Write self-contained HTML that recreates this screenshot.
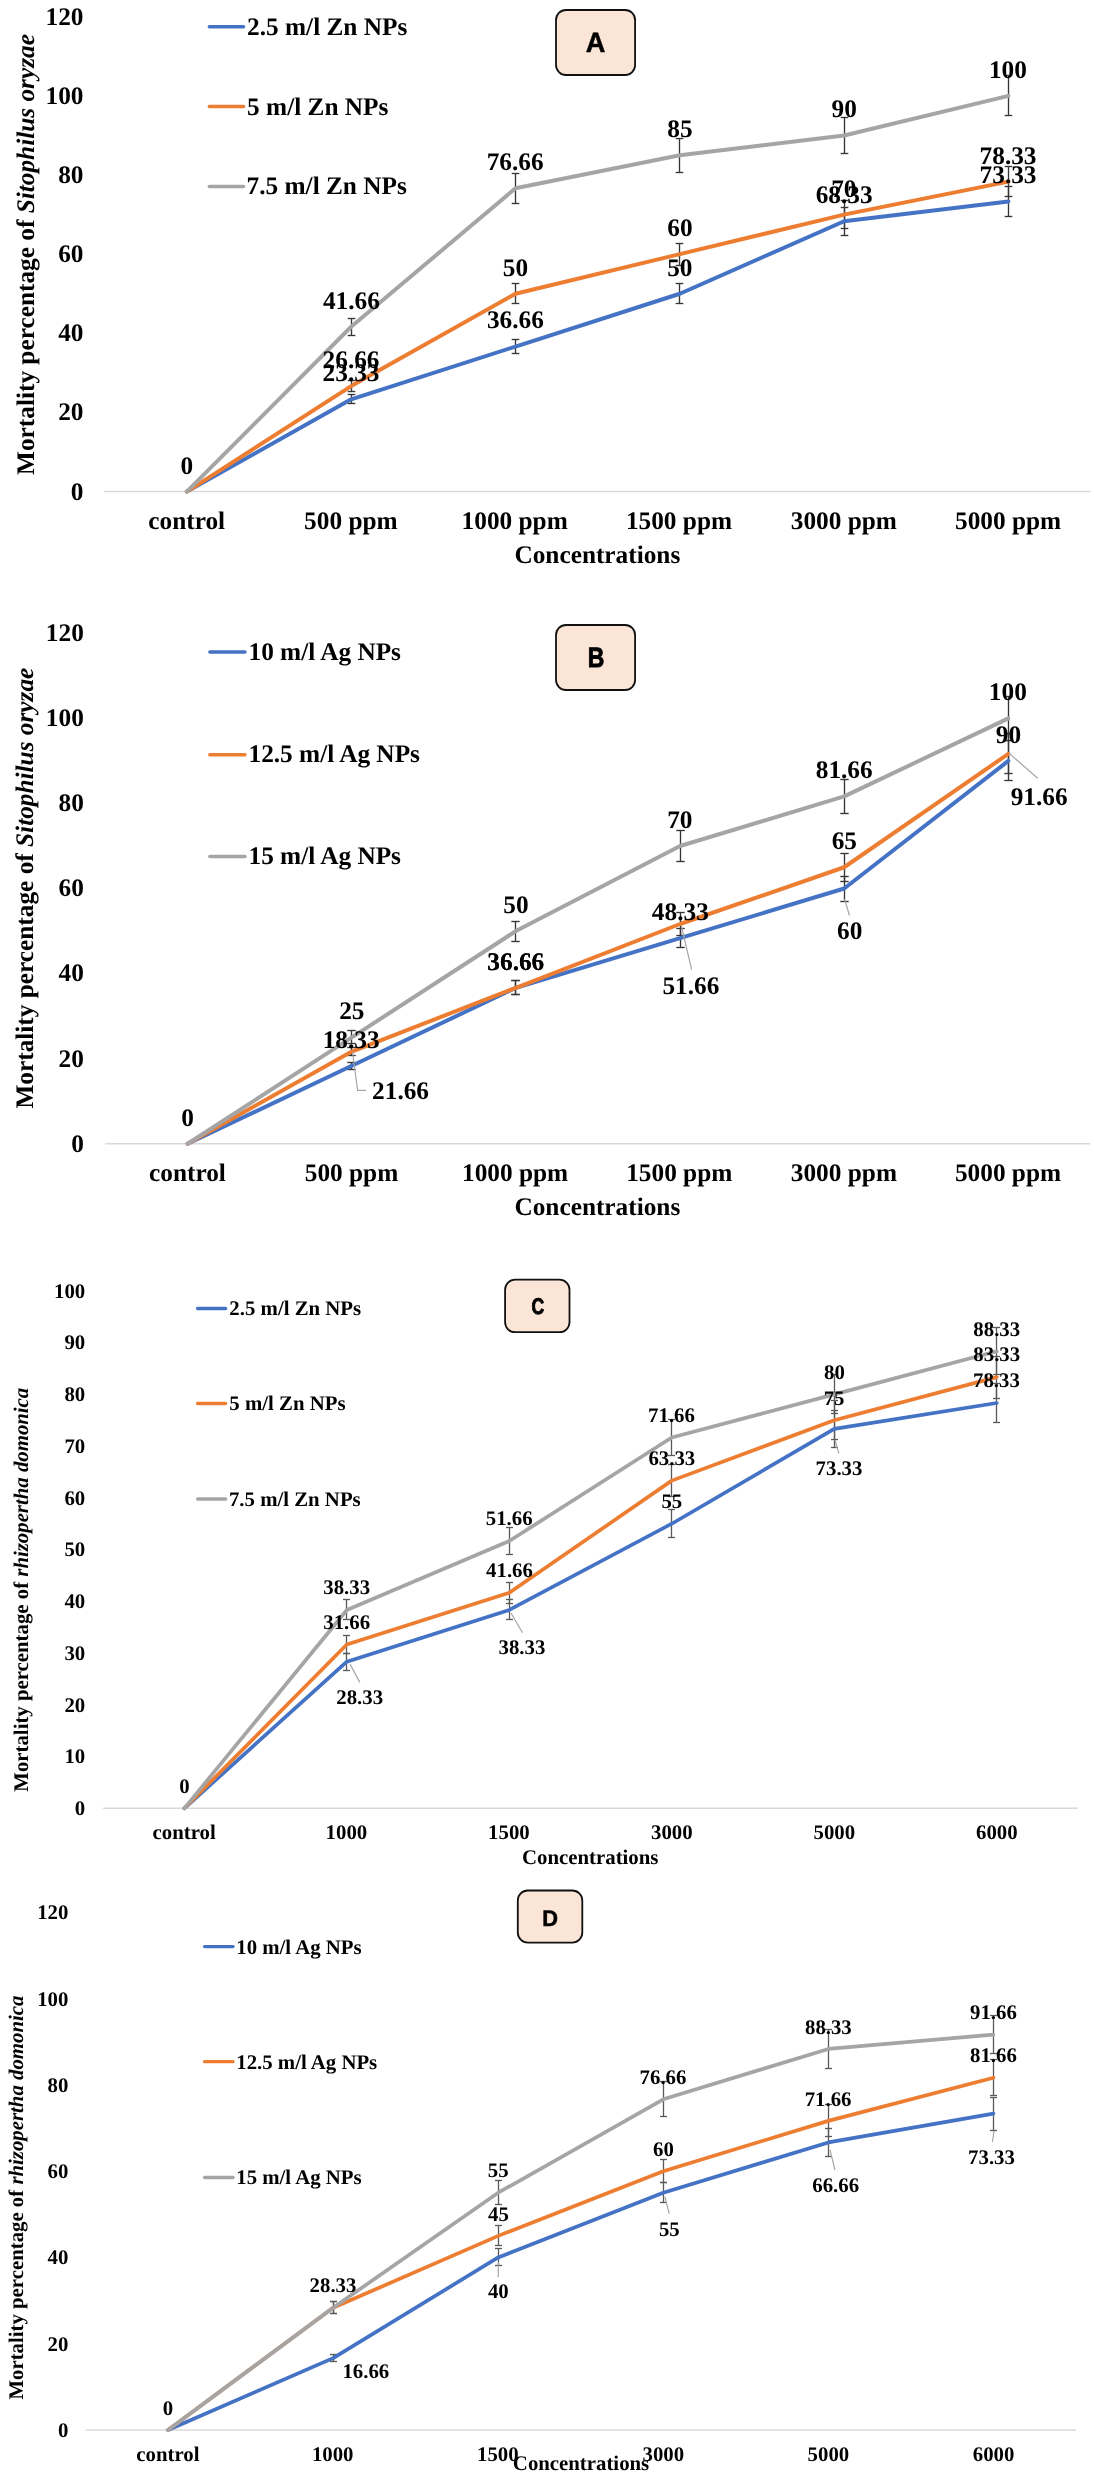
<!DOCTYPE html>
<html><head><meta charset="utf-8"><title>Mortality charts</title>
<style>
html,body{margin:0;padding:0;background:#fff;}
svg{display:block;filter:blur(0.3px);}
text{font-family:"Liberation Serif",serif;}
</style></head><body>
<svg width="1094" height="2479" viewBox="0 0 1094 2479" text-rendering="geometricPrecision">
<rect width="1094" height="2479" fill="#fff"/>
<line x1="104.2" y1="491.6" x2="1090.1" y2="491.6" stroke="#D9D9D9" stroke-width="1.5" stroke-linecap="butt"/>
<text transform="translate(70.86 499.5) scale(1 1)" style="font-size:25.3px;font-weight:bold;" fill="#000">0</text>
<text transform="translate(58.21 420.36) scale(1 1)" style="font-size:25.3px;font-weight:bold;" fill="#000">20</text>
<text transform="translate(58.21 341.22) scale(1 1)" style="font-size:25.3px;font-weight:bold;" fill="#000">40</text>
<text transform="translate(58.21 262.08) scale(1 1)" style="font-size:25.3px;font-weight:bold;" fill="#000">60</text>
<text transform="translate(58.21 182.94) scale(1 1)" style="font-size:25.3px;font-weight:bold;" fill="#000">80</text>
<text transform="translate(45.56 103.8) scale(1 1)" style="font-size:25.3px;font-weight:bold;" fill="#000">100</text>
<text transform="translate(45.56 24.66) scale(1 1)" style="font-size:25.3px;font-weight:bold;" fill="#000">120</text>
<text transform="translate(148.28 529.1) scale(1 1)" style="font-size:25.3px;font-weight:bold;" fill="#000">control</text>
<text transform="translate(304.12 529.1) scale(1 1)" style="font-size:25.3px;font-weight:bold;" fill="#000">500 ppm</text>
<text transform="translate(461.6 529.1) scale(1 1)" style="font-size:25.3px;font-weight:bold;" fill="#000">1000 ppm</text>
<text transform="translate(625.92 529.1) scale(1 1)" style="font-size:25.3px;font-weight:bold;" fill="#000">1500 ppm</text>
<text transform="translate(790.74 529.1) scale(1 1)" style="font-size:25.3px;font-weight:bold;" fill="#000">3000 ppm</text>
<text transform="translate(955.06 529.1) scale(1 1)" style="font-size:25.3px;font-weight:bold;" fill="#000">5000 ppm</text>
<text transform="translate(514.44 563.3) scale(1 1)" style="font-size:25.3px;font-weight:bold;" fill="#000">Concentrations</text>
<text transform="translate(34 474.4) rotate(-90) scale(1 1) translate(-0.51 0)" style="font-size:25.3px"><tspan style="font-weight:bold;">Mortality percentage of </tspan><tspan style="font-weight:bold;font-style:italic;">Sitophilus oryzae</tspan></text>
<line x1="209.35" y1="26.8" x2="243.55" y2="26.8" stroke="#4472C4" stroke-width="3.5" stroke-linecap="round"/>
<text transform="translate(247.09 35) scale(1 1)" style="font-size:25.3px;font-weight:bold;" fill="#000">2.5 m/l Zn NPs</text>
<line x1="209.35" y1="106.6" x2="243.55" y2="106.6" stroke="#ED7D31" stroke-width="3.5" stroke-linecap="round"/>
<text transform="translate(247.09 114.5) scale(1 1)" style="font-size:25.3px;font-weight:bold;" fill="#000">5 m/l Zn NPs</text>
<line x1="209.35" y1="186.4" x2="243.55" y2="186.4" stroke="#A5A5A5" stroke-width="3.5" stroke-linecap="round"/>
<text transform="translate(246.58 194.4) scale(1 1)" style="font-size:25.3px;font-weight:bold;" fill="#000">7.5 m/l Zn NPs</text>
<rect x="556" y="10" width="79.1" height="65" rx="10" ry="10" fill="#FBE5D6" stroke="#111" stroke-width="1.8"/>
<text transform="translate(585.74 52.4) scale(0.97 1)" style="font-family:'Liberation Sans',sans-serif;font-weight:bold;font-size:28px" fill="#000" stroke="#000" stroke-width="0.5">A</text>
<line x1="351.5" y1="394.5" x2="351.5" y2="403.5" stroke="#363636" stroke-width="1.35" stroke-linecap="butt"/>
<line x1="347.7" y1="394.5" x2="355.3" y2="394.5" stroke="#363636" stroke-width="1.35" stroke-linecap="butt"/>
<line x1="347.7" y1="403.5" x2="355.3" y2="403.5" stroke="#363636" stroke-width="1.35" stroke-linecap="butt"/>
<line x1="515.5" y1="339.5" x2="515.5" y2="353.5" stroke="#363636" stroke-width="1.35" stroke-linecap="butt"/>
<line x1="511.7" y1="339.5" x2="519.3" y2="339.5" stroke="#363636" stroke-width="1.35" stroke-linecap="butt"/>
<line x1="511.7" y1="353.5" x2="519.3" y2="353.5" stroke="#363636" stroke-width="1.35" stroke-linecap="butt"/>
<line x1="679.5" y1="283.5" x2="679.5" y2="303.5" stroke="#363636" stroke-width="1.35" stroke-linecap="butt"/>
<line x1="675.7" y1="283.5" x2="683.3" y2="283.5" stroke="#363636" stroke-width="1.35" stroke-linecap="butt"/>
<line x1="675.7" y1="303.5" x2="683.3" y2="303.5" stroke="#363636" stroke-width="1.35" stroke-linecap="butt"/>
<line x1="844.5" y1="207.5" x2="844.5" y2="235.5" stroke="#363636" stroke-width="1.35" stroke-linecap="butt"/>
<line x1="840.7" y1="207.5" x2="848.3" y2="207.5" stroke="#363636" stroke-width="1.35" stroke-linecap="butt"/>
<line x1="840.7" y1="235.5" x2="848.3" y2="235.5" stroke="#363636" stroke-width="1.35" stroke-linecap="butt"/>
<line x1="1008.5" y1="186.5" x2="1008.5" y2="216.5" stroke="#363636" stroke-width="1.35" stroke-linecap="butt"/>
<line x1="1004.7" y1="186.5" x2="1012.3" y2="186.5" stroke="#363636" stroke-width="1.35" stroke-linecap="butt"/>
<line x1="1004.7" y1="216.5" x2="1012.3" y2="216.5" stroke="#363636" stroke-width="1.35" stroke-linecap="butt"/>
<line x1="351.5" y1="380.5" x2="351.5" y2="391.5" stroke="#363636" stroke-width="1.35" stroke-linecap="butt"/>
<line x1="347.7" y1="380.5" x2="355.3" y2="380.5" stroke="#363636" stroke-width="1.35" stroke-linecap="butt"/>
<line x1="347.7" y1="391.5" x2="355.3" y2="391.5" stroke="#363636" stroke-width="1.35" stroke-linecap="butt"/>
<line x1="515.5" y1="283.5" x2="515.5" y2="303.5" stroke="#363636" stroke-width="1.35" stroke-linecap="butt"/>
<line x1="511.7" y1="283.5" x2="519.3" y2="283.5" stroke="#363636" stroke-width="1.35" stroke-linecap="butt"/>
<line x1="511.7" y1="303.5" x2="519.3" y2="303.5" stroke="#363636" stroke-width="1.35" stroke-linecap="butt"/>
<line x1="679.5" y1="243.5" x2="679.5" y2="265.5" stroke="#363636" stroke-width="1.35" stroke-linecap="butt"/>
<line x1="675.7" y1="243.5" x2="683.3" y2="243.5" stroke="#363636" stroke-width="1.35" stroke-linecap="butt"/>
<line x1="675.7" y1="265.5" x2="683.3" y2="265.5" stroke="#363636" stroke-width="1.35" stroke-linecap="butt"/>
<line x1="844.5" y1="200.5" x2="844.5" y2="228.5" stroke="#363636" stroke-width="1.35" stroke-linecap="butt"/>
<line x1="840.7" y1="200.5" x2="848.3" y2="200.5" stroke="#363636" stroke-width="1.35" stroke-linecap="butt"/>
<line x1="840.7" y1="228.5" x2="848.3" y2="228.5" stroke="#363636" stroke-width="1.35" stroke-linecap="butt"/>
<line x1="1008.5" y1="166.5" x2="1008.5" y2="196.5" stroke="#363636" stroke-width="1.35" stroke-linecap="butt"/>
<line x1="1004.7" y1="166.5" x2="1012.3" y2="166.5" stroke="#363636" stroke-width="1.35" stroke-linecap="butt"/>
<line x1="1004.7" y1="196.5" x2="1012.3" y2="196.5" stroke="#363636" stroke-width="1.35" stroke-linecap="butt"/>
<line x1="351.5" y1="318.5" x2="351.5" y2="335.5" stroke="#363636" stroke-width="1.35" stroke-linecap="butt"/>
<line x1="347.7" y1="318.5" x2="355.3" y2="318.5" stroke="#363636" stroke-width="1.35" stroke-linecap="butt"/>
<line x1="347.7" y1="335.5" x2="355.3" y2="335.5" stroke="#363636" stroke-width="1.35" stroke-linecap="butt"/>
<line x1="515.5" y1="173.5" x2="515.5" y2="203.5" stroke="#363636" stroke-width="1.35" stroke-linecap="butt"/>
<line x1="511.7" y1="173.5" x2="519.3" y2="173.5" stroke="#363636" stroke-width="1.35" stroke-linecap="butt"/>
<line x1="511.7" y1="203.5" x2="519.3" y2="203.5" stroke="#363636" stroke-width="1.35" stroke-linecap="butt"/>
<line x1="679.5" y1="138.5" x2="679.5" y2="172.5" stroke="#363636" stroke-width="1.35" stroke-linecap="butt"/>
<line x1="675.7" y1="138.5" x2="683.3" y2="138.5" stroke="#363636" stroke-width="1.35" stroke-linecap="butt"/>
<line x1="675.7" y1="172.5" x2="683.3" y2="172.5" stroke="#363636" stroke-width="1.35" stroke-linecap="butt"/>
<line x1="844.5" y1="117.5" x2="844.5" y2="153.5" stroke="#363636" stroke-width="1.35" stroke-linecap="butt"/>
<line x1="840.7" y1="117.5" x2="848.3" y2="117.5" stroke="#363636" stroke-width="1.35" stroke-linecap="butt"/>
<line x1="840.7" y1="153.5" x2="848.3" y2="153.5" stroke="#363636" stroke-width="1.35" stroke-linecap="butt"/>
<line x1="1008.5" y1="75.5" x2="1008.5" y2="115.5" stroke="#363636" stroke-width="1.35" stroke-linecap="butt"/>
<line x1="1004.7" y1="75.5" x2="1012.3" y2="75.5" stroke="#363636" stroke-width="1.35" stroke-linecap="butt"/>
<line x1="1004.7" y1="115.5" x2="1012.3" y2="115.5" stroke="#363636" stroke-width="1.35" stroke-linecap="butt"/>
<polyline points="186.86,491.6 351.17,399.28 515.49,346.54 679.81,293.75 844.12,221.22 1008.44,201.43" fill="none" stroke="#4472C4" stroke-width="4" stroke-linejoin="round" stroke-linecap="round"/>
<polyline points="186.86,491.6 351.17,386.11 515.49,293.75 679.81,254.18 844.12,214.61 1008.44,181.65" fill="none" stroke="#ED7D31" stroke-width="4" stroke-linejoin="round" stroke-linecap="round"/>
<polyline points="186.86,491.6 351.17,326.75 515.49,188.26 679.81,155.26 844.12,135.47 1008.44,95.9" fill="none" stroke="#A5A5A5" stroke-width="4" stroke-linejoin="round" stroke-linecap="round"/>
<text transform="translate(322.59 381.18) scale(1 1)" style="font-size:25.3px;font-weight:bold;" fill="#000">23.33</text>
<text transform="translate(486.9 328.44) scale(1 1)" style="font-size:25.3px;font-weight:bold;" fill="#000">36.66</text>
<text transform="translate(667.16 275.65) scale(1 1)" style="font-size:25.3px;font-weight:bold;" fill="#000">50</text>
<text transform="translate(815.66 203.12) scale(1 1)" style="font-size:25.3px;font-weight:bold;" fill="#000">68.33</text>
<text transform="translate(979.6 183.33) scale(1 1)" style="font-size:25.3px;font-weight:bold;" fill="#000">73.33</text>
<text transform="translate(322.59 368.01) scale(1 1)" style="font-size:25.3px;font-weight:bold;" fill="#000">26.66</text>
<text transform="translate(502.84 275.65) scale(1 1)" style="font-size:25.3px;font-weight:bold;" fill="#000">50</text>
<text transform="translate(667.28 236.08) scale(1 1)" style="font-size:25.3px;font-weight:bold;" fill="#000">60</text>
<text transform="translate(831.22 196.51) scale(1 1)" style="font-size:25.3px;font-weight:bold;" fill="#000">70</text>
<text transform="translate(979.6 163.55) scale(1 1)" style="font-size:25.3px;font-weight:bold;" fill="#000">78.33</text>
<text transform="translate(180.53 473.5) scale(1 1)" style="font-size:25.3px;font-weight:bold;" fill="#000">0</text>
<text transform="translate(322.97 308.65) scale(1 1)" style="font-size:25.3px;font-weight:bold;" fill="#000">41.66</text>
<text transform="translate(486.65 170.16) scale(1 1)" style="font-size:25.3px;font-weight:bold;" fill="#000">76.66</text>
<text transform="translate(667.28 137.16) scale(1 1)" style="font-size:25.3px;font-weight:bold;" fill="#000">85</text>
<text transform="translate(831.6 117.37) scale(1 1)" style="font-size:25.3px;font-weight:bold;" fill="#000">90</text>
<text transform="translate(988.96 77.8) scale(1 1)" style="font-size:25.3px;font-weight:bold;" fill="#000">100</text>
<line x1="105.3" y1="1143.7" x2="1090.1" y2="1143.7" stroke="#D9D9D9" stroke-width="1.5" stroke-linecap="butt"/>
<text transform="translate(71.16 1151.6) scale(1 1)" style="font-size:25.3px;font-weight:bold;" fill="#000">0</text>
<text transform="translate(58.51 1066.54) scale(1 1)" style="font-size:25.3px;font-weight:bold;" fill="#000">20</text>
<text transform="translate(58.51 981.48) scale(1 1)" style="font-size:25.3px;font-weight:bold;" fill="#000">40</text>
<text transform="translate(58.51 896.42) scale(1 1)" style="font-size:25.3px;font-weight:bold;" fill="#000">60</text>
<text transform="translate(58.51 811.36) scale(1 1)" style="font-size:25.3px;font-weight:bold;" fill="#000">80</text>
<text transform="translate(45.86 726.3) scale(1 1)" style="font-size:25.3px;font-weight:bold;" fill="#000">100</text>
<text transform="translate(45.86 641.24) scale(1 1)" style="font-size:25.3px;font-weight:bold;" fill="#000">120</text>
<text transform="translate(149.08 1180.7) scale(1 1)" style="font-size:25.3px;font-weight:bold;" fill="#000">control</text>
<text transform="translate(304.74 1180.7) scale(1 1)" style="font-size:25.3px;font-weight:bold;" fill="#000">500 ppm</text>
<text transform="translate(462.04 1180.7) scale(1 1)" style="font-size:25.3px;font-weight:bold;" fill="#000">1000 ppm</text>
<text transform="translate(626.18 1180.7) scale(1 1)" style="font-size:25.3px;font-weight:bold;" fill="#000">1500 ppm</text>
<text transform="translate(790.82 1180.7) scale(1 1)" style="font-size:25.3px;font-weight:bold;" fill="#000">3000 ppm</text>
<text transform="translate(954.95 1180.7) scale(1 1)" style="font-size:25.3px;font-weight:bold;" fill="#000">5000 ppm</text>
<text transform="translate(514.44 1215.2) scale(1 1)" style="font-size:25.3px;font-weight:bold;" fill="#000">Concentrations</text>
<text transform="translate(32.9 1108) rotate(-90) scale(1 1) translate(-0.51 0)" style="font-size:25.3px"><tspan style="font-weight:bold;">Mortality percentage of </tspan><tspan style="font-weight:bold;font-style:italic;">Sitophilus oryzae</tspan></text>
<line x1="209.85" y1="652.1" x2="244.95" y2="652.1" stroke="#4472C4" stroke-width="3.5" stroke-linecap="round"/>
<text transform="translate(248.48 660) scale(1 1)" style="font-size:25.3px;font-weight:bold;" fill="#000">10 m/l Ag NPs</text>
<line x1="209.85" y1="754.8" x2="244.95" y2="754.8" stroke="#ED7D31" stroke-width="3.5" stroke-linecap="round"/>
<text transform="translate(248.48 762.1) scale(1 1)" style="font-size:25.3px;font-weight:bold;" fill="#000">12.5 m/l Ag NPs</text>
<line x1="209.85" y1="856.6" x2="244.95" y2="856.6" stroke="#A5A5A5" stroke-width="3.5" stroke-linecap="round"/>
<text transform="translate(248.48 864.1) scale(1 1)" style="font-size:25.3px;font-weight:bold;" fill="#000">15 m/l Ag NPs</text>
<rect x="556" y="625" width="79.1" height="65" rx="10" ry="10" fill="#FBE5D6" stroke="#111" stroke-width="1.8"/>
<text transform="translate(587.74 667.4) scale(0.82 1)" style="font-family:'Liberation Sans',sans-serif;font-weight:bold;font-size:28px" fill="#000" stroke="#000" stroke-width="0.9">B</text>
<line x1="351.5" y1="1062.5" x2="351.5" y2="1069.5" stroke="#363636" stroke-width="1.35" stroke-linecap="butt"/>
<line x1="347.3" y1="1062.5" x2="355.7" y2="1062.5" stroke="#363636" stroke-width="1.35" stroke-linecap="butt"/>
<line x1="347.3" y1="1069.5" x2="355.7" y2="1069.5" stroke="#363636" stroke-width="1.35" stroke-linecap="butt"/>
<line x1="515.5" y1="980.5" x2="515.5" y2="994.5" stroke="#363636" stroke-width="1.35" stroke-linecap="butt"/>
<line x1="511.3" y1="980.5" x2="519.7" y2="980.5" stroke="#363636" stroke-width="1.35" stroke-linecap="butt"/>
<line x1="511.3" y1="994.5" x2="519.7" y2="994.5" stroke="#363636" stroke-width="1.35" stroke-linecap="butt"/>
<line x1="680.5" y1="928.5" x2="680.5" y2="947.5" stroke="#363636" stroke-width="1.35" stroke-linecap="butt"/>
<line x1="676.3" y1="928.5" x2="684.7" y2="928.5" stroke="#363636" stroke-width="1.35" stroke-linecap="butt"/>
<line x1="676.3" y1="947.5" x2="684.7" y2="947.5" stroke="#363636" stroke-width="1.35" stroke-linecap="butt"/>
<line x1="844.5" y1="876.5" x2="844.5" y2="901.5" stroke="#363636" stroke-width="1.35" stroke-linecap="butt"/>
<line x1="840.3" y1="876.5" x2="848.7" y2="876.5" stroke="#363636" stroke-width="1.35" stroke-linecap="butt"/>
<line x1="840.3" y1="901.5" x2="848.7" y2="901.5" stroke="#363636" stroke-width="1.35" stroke-linecap="butt"/>
<line x1="1008.5" y1="740.5" x2="1008.5" y2="780.5" stroke="#363636" stroke-width="1.35" stroke-linecap="butt"/>
<line x1="1004.3" y1="740.5" x2="1012.7" y2="740.5" stroke="#363636" stroke-width="1.35" stroke-linecap="butt"/>
<line x1="1004.3" y1="780.5" x2="1012.7" y2="780.5" stroke="#363636" stroke-width="1.35" stroke-linecap="butt"/>
<line x1="351.5" y1="1047.5" x2="351.5" y2="1055.5" stroke="#363636" stroke-width="1.35" stroke-linecap="butt"/>
<line x1="347.3" y1="1047.5" x2="355.7" y2="1047.5" stroke="#363636" stroke-width="1.35" stroke-linecap="butt"/>
<line x1="347.3" y1="1055.5" x2="355.7" y2="1055.5" stroke="#363636" stroke-width="1.35" stroke-linecap="butt"/>
<line x1="515.5" y1="980.5" x2="515.5" y2="994.5" stroke="#363636" stroke-width="1.35" stroke-linecap="butt"/>
<line x1="511.3" y1="980.5" x2="519.7" y2="980.5" stroke="#363636" stroke-width="1.35" stroke-linecap="butt"/>
<line x1="511.3" y1="994.5" x2="519.7" y2="994.5" stroke="#363636" stroke-width="1.35" stroke-linecap="butt"/>
<line x1="680.5" y1="912.5" x2="680.5" y2="935.5" stroke="#363636" stroke-width="1.35" stroke-linecap="butt"/>
<line x1="676.3" y1="912.5" x2="684.7" y2="912.5" stroke="#363636" stroke-width="1.35" stroke-linecap="butt"/>
<line x1="676.3" y1="935.5" x2="684.7" y2="935.5" stroke="#363636" stroke-width="1.35" stroke-linecap="butt"/>
<line x1="844.5" y1="853.5" x2="844.5" y2="881.5" stroke="#363636" stroke-width="1.35" stroke-linecap="butt"/>
<line x1="840.3" y1="853.5" x2="848.7" y2="853.5" stroke="#363636" stroke-width="1.35" stroke-linecap="butt"/>
<line x1="840.3" y1="881.5" x2="848.7" y2="881.5" stroke="#363636" stroke-width="1.35" stroke-linecap="butt"/>
<line x1="1008.5" y1="733.5" x2="1008.5" y2="773.5" stroke="#363636" stroke-width="1.35" stroke-linecap="butt"/>
<line x1="1004.3" y1="733.5" x2="1012.7" y2="733.5" stroke="#363636" stroke-width="1.35" stroke-linecap="butt"/>
<line x1="1004.3" y1="773.5" x2="1012.7" y2="773.5" stroke="#363636" stroke-width="1.35" stroke-linecap="butt"/>
<line x1="351.5" y1="1030.5" x2="351.5" y2="1043.5" stroke="#363636" stroke-width="1.35" stroke-linecap="butt"/>
<line x1="347.3" y1="1030.5" x2="355.7" y2="1030.5" stroke="#363636" stroke-width="1.35" stroke-linecap="butt"/>
<line x1="347.3" y1="1043.5" x2="355.7" y2="1043.5" stroke="#363636" stroke-width="1.35" stroke-linecap="butt"/>
<line x1="515.5" y1="921.5" x2="515.5" y2="941.5" stroke="#363636" stroke-width="1.35" stroke-linecap="butt"/>
<line x1="511.3" y1="921.5" x2="519.7" y2="921.5" stroke="#363636" stroke-width="1.35" stroke-linecap="butt"/>
<line x1="511.3" y1="941.5" x2="519.7" y2="941.5" stroke="#363636" stroke-width="1.35" stroke-linecap="butt"/>
<line x1="680.5" y1="830.5" x2="680.5" y2="861.5" stroke="#363636" stroke-width="1.35" stroke-linecap="butt"/>
<line x1="676.3" y1="830.5" x2="684.7" y2="830.5" stroke="#363636" stroke-width="1.35" stroke-linecap="butt"/>
<line x1="676.3" y1="861.5" x2="684.7" y2="861.5" stroke="#363636" stroke-width="1.35" stroke-linecap="butt"/>
<line x1="844.5" y1="779.5" x2="844.5" y2="813.5" stroke="#363636" stroke-width="1.35" stroke-linecap="butt"/>
<line x1="840.3" y1="779.5" x2="848.7" y2="779.5" stroke="#363636" stroke-width="1.35" stroke-linecap="butt"/>
<line x1="840.3" y1="813.5" x2="848.7" y2="813.5" stroke="#363636" stroke-width="1.35" stroke-linecap="butt"/>
<line x1="1008.5" y1="696.5" x2="1008.5" y2="740.5" stroke="#363636" stroke-width="1.35" stroke-linecap="butt"/>
<line x1="1004.3" y1="696.5" x2="1012.7" y2="696.5" stroke="#363636" stroke-width="1.35" stroke-linecap="butt"/>
<line x1="1004.3" y1="740.5" x2="1012.7" y2="740.5" stroke="#363636" stroke-width="1.35" stroke-linecap="butt"/>
<polyline points="187.67,1143.7 351.8,1065.74 515.93,987.79 680.07,938.15 844.2,888.52 1008.33,760.93" fill="none" stroke="#4472C4" stroke-width="4" stroke-linejoin="round" stroke-linecap="round"/>
<polyline points="187.67,1143.7 351.8,1051.58 515.93,987.79 680.07,923.99 844.2,867.26 1008.33,753.87" fill="none" stroke="#ED7D31" stroke-width="4" stroke-linejoin="round" stroke-linecap="round"/>
<polyline points="187.67,1143.7 351.8,1037.38 515.93,931.05 680.07,845.99 844.2,796.4 1008.33,718.4" fill="none" stroke="#A5A5A5" stroke-width="4" stroke-linejoin="round" stroke-linecap="round"/>
<polyline points="352.5,1052 357.6,1090.3 366.1,1090.3" fill="none" stroke="#A6A6A6" stroke-width="1.2"/>
<polyline points="681.4,926 691.6,969.6" fill="none" stroke="#A6A6A6" stroke-width="1.2"/>
<polyline points="844.4,899 849.5,915.5" fill="none" stroke="#A6A6A6" stroke-width="1.2"/>
<polyline points="1009,753.1 1037.7,778.2" fill="none" stroke="#A6A6A6" stroke-width="1.2"/>
<text transform="translate(322.7 1047.64) scale(1 1)" style="font-size:25.3px;font-weight:bold;" fill="#000">18.33</text>
<text transform="translate(487.34 969.69) scale(1 1)" style="font-size:25.3px;font-weight:bold;" fill="#000">36.66</text>
<text transform="translate(651.86 920.05) scale(1 1)" style="font-size:25.3px;font-weight:bold;" fill="#000">48.33</text>
<text transform="translate(837.08 939.1) scale(1 1)" style="font-size:25.3px;font-weight:bold;" fill="#000">60</text>
<text transform="translate(995.81 742.83) scale(1 1)" style="font-size:25.3px;font-weight:bold;" fill="#000">90</text>
<text transform="translate(372.09 1098.9) scale(1 1)" style="font-size:25.3px;font-weight:bold;" fill="#000">21.66</text>
<text transform="translate(487.34 969.69) scale(1 1)" style="font-size:25.3px;font-weight:bold;" fill="#000">36.66</text>
<text transform="translate(662.41 993.9) scale(1 1)" style="font-size:25.3px;font-weight:bold;" fill="#000">51.66</text>
<text transform="translate(831.68 849.16) scale(1 1)" style="font-size:25.3px;font-weight:bold;" fill="#000">65</text>
<text transform="translate(1010.64 804.8) scale(1 1)" style="font-size:25.3px;font-weight:bold;" fill="#000">91.66</text>
<text transform="translate(181.34 1125.6) scale(1 1)" style="font-size:25.3px;font-weight:bold;" fill="#000">0</text>
<text transform="translate(339.15 1019.27) scale(1 1)" style="font-size:25.3px;font-weight:bold;" fill="#000">25</text>
<text transform="translate(503.28 912.95) scale(1 1)" style="font-size:25.3px;font-weight:bold;" fill="#000">50</text>
<text transform="translate(667.16 827.89) scale(1 1)" style="font-size:25.3px;font-weight:bold;" fill="#000">70</text>
<text transform="translate(815.74 778.3) scale(1 1)" style="font-size:25.3px;font-weight:bold;" fill="#000">81.66</text>
<text transform="translate(988.85 700.3) scale(1 1)" style="font-size:25.3px;font-weight:bold;" fill="#000">100</text>
<line x1="103.1" y1="1808.3" x2="1078" y2="1808.3" stroke="#D9D9D9" stroke-width="1.5" stroke-linecap="butt"/>
<text transform="translate(74.83 1815.1) scale(1 1)" style="font-size:20.8px;font-weight:bold;" fill="#000">0</text>
<text transform="translate(64.43 1763.36) scale(1 1)" style="font-size:20.8px;font-weight:bold;" fill="#000">10</text>
<text transform="translate(64.43 1711.62) scale(1 1)" style="font-size:20.8px;font-weight:bold;" fill="#000">20</text>
<text transform="translate(64.43 1659.88) scale(1 1)" style="font-size:20.8px;font-weight:bold;" fill="#000">30</text>
<text transform="translate(64.43 1608.14) scale(1 1)" style="font-size:20.8px;font-weight:bold;" fill="#000">40</text>
<text transform="translate(64.43 1556.4) scale(1 1)" style="font-size:20.8px;font-weight:bold;" fill="#000">50</text>
<text transform="translate(64.43 1504.66) scale(1 1)" style="font-size:20.8px;font-weight:bold;" fill="#000">60</text>
<text transform="translate(64.43 1452.92) scale(1 1)" style="font-size:20.8px;font-weight:bold;" fill="#000">70</text>
<text transform="translate(64.43 1401.18) scale(1 1)" style="font-size:20.8px;font-weight:bold;" fill="#000">80</text>
<text transform="translate(64.43 1349.44) scale(1 1)" style="font-size:20.8px;font-weight:bold;" fill="#000">90</text>
<text transform="translate(54.03 1297.7) scale(1 1)" style="font-size:20.8px;font-weight:bold;" fill="#000">100</text>
<text transform="translate(152.62 1838.7) scale(1 1)" style="font-size:20.8px;font-weight:bold;" fill="#000">control</text>
<text transform="translate(325.61 1838.7) scale(1 1)" style="font-size:20.8px;font-weight:bold;" fill="#000">1000</text>
<text transform="translate(488.09 1838.7) scale(1 1)" style="font-size:20.8px;font-weight:bold;" fill="#000">1500</text>
<text transform="translate(650.99 1838.7) scale(1 1)" style="font-size:20.8px;font-weight:bold;" fill="#000">3000</text>
<text transform="translate(813.48 1838.7) scale(1 1)" style="font-size:20.8px;font-weight:bold;" fill="#000">5000</text>
<text transform="translate(976.06 1838.7) scale(1 1)" style="font-size:20.8px;font-weight:bold;" fill="#000">6000</text>
<text transform="translate(522.06 1863.7) scale(1 1)" style="font-size:20.8px;font-weight:bold;" fill="#000">Concentrations</text>
<text transform="translate(27.8 1791.3) rotate(-90) scale(1 1) translate(-0.42 0)" style="font-size:20.8px"><tspan style="font-weight:bold;">Mortality percentage of </tspan><tspan style="font-weight:bold;font-style:italic;">rhizopertha domonica</tspan></text>
<line x1="197.55" y1="1308.5" x2="225.65" y2="1308.5" stroke="#4472C4" stroke-width="3.3" stroke-linecap="round"/>
<text transform="translate(229.37 1315) scale(1 1)" style="font-size:20.8px;font-weight:bold;" fill="#000">2.5 m/l Zn NPs</text>
<line x1="197.55" y1="1403.5" x2="225.65" y2="1403.5" stroke="#ED7D31" stroke-width="3.3" stroke-linecap="round"/>
<text transform="translate(229.37 1410.3) scale(1 1)" style="font-size:20.8px;font-weight:bold;" fill="#000">5 m/l Zn NPs</text>
<line x1="197.55" y1="1499" x2="225.65" y2="1499" stroke="#A5A5A5" stroke-width="3.3" stroke-linecap="round"/>
<text transform="translate(228.95 1505.7) scale(1 1)" style="font-size:20.8px;font-weight:bold;" fill="#000">7.5 m/l Zn NPs</text>
<rect x="505.1" y="1279.6" width="64.4" height="52.6" rx="10" ry="10" fill="#FBE5D6" stroke="#111" stroke-width="1.8"/>
<text transform="translate(531.59 1313.8) scale(0.78 1)" style="font-family:'Liberation Sans',sans-serif;font-weight:bold;font-size:22.5px" fill="#000" stroke="#000" stroke-width="0.9">C</text>
<line x1="346.5" y1="1653.5" x2="346.5" y2="1670.5" stroke="#595959" stroke-width="1.3" stroke-linecap="butt"/>
<line x1="343" y1="1653.5" x2="350" y2="1653.5" stroke="#595959" stroke-width="1.3" stroke-linecap="butt"/>
<line x1="343" y1="1670.5" x2="350" y2="1670.5" stroke="#595959" stroke-width="1.3" stroke-linecap="butt"/>
<line x1="509.5" y1="1599.5" x2="509.5" y2="1619.5" stroke="#595959" stroke-width="1.3" stroke-linecap="butt"/>
<line x1="506" y1="1599.5" x2="513" y2="1599.5" stroke="#595959" stroke-width="1.3" stroke-linecap="butt"/>
<line x1="506" y1="1619.5" x2="513" y2="1619.5" stroke="#595959" stroke-width="1.3" stroke-linecap="butt"/>
<line x1="671.5" y1="1509.5" x2="671.5" y2="1537.5" stroke="#595959" stroke-width="1.3" stroke-linecap="butt"/>
<line x1="668" y1="1509.5" x2="675" y2="1509.5" stroke="#595959" stroke-width="1.3" stroke-linecap="butt"/>
<line x1="668" y1="1537.5" x2="675" y2="1537.5" stroke="#595959" stroke-width="1.3" stroke-linecap="butt"/>
<line x1="834.5" y1="1410.5" x2="834.5" y2="1447.5" stroke="#595959" stroke-width="1.3" stroke-linecap="butt"/>
<line x1="831" y1="1410.5" x2="838" y2="1410.5" stroke="#595959" stroke-width="1.3" stroke-linecap="butt"/>
<line x1="831" y1="1447.5" x2="838" y2="1447.5" stroke="#595959" stroke-width="1.3" stroke-linecap="butt"/>
<line x1="996.5" y1="1383.5" x2="996.5" y2="1422.5" stroke="#595959" stroke-width="1.3" stroke-linecap="butt"/>
<line x1="993" y1="1383.5" x2="1000" y2="1383.5" stroke="#595959" stroke-width="1.3" stroke-linecap="butt"/>
<line x1="993" y1="1422.5" x2="1000" y2="1422.5" stroke="#595959" stroke-width="1.3" stroke-linecap="butt"/>
<line x1="346.5" y1="1635.5" x2="346.5" y2="1653.5" stroke="#595959" stroke-width="1.3" stroke-linecap="butt"/>
<line x1="343" y1="1635.5" x2="350" y2="1635.5" stroke="#595959" stroke-width="1.3" stroke-linecap="butt"/>
<line x1="343" y1="1653.5" x2="350" y2="1653.5" stroke="#595959" stroke-width="1.3" stroke-linecap="butt"/>
<line x1="509.5" y1="1582.5" x2="509.5" y2="1603.5" stroke="#595959" stroke-width="1.3" stroke-linecap="butt"/>
<line x1="506" y1="1582.5" x2="513" y2="1582.5" stroke="#595959" stroke-width="1.3" stroke-linecap="butt"/>
<line x1="506" y1="1603.5" x2="513" y2="1603.5" stroke="#595959" stroke-width="1.3" stroke-linecap="butt"/>
<line x1="671.5" y1="1464.5" x2="671.5" y2="1496.5" stroke="#595959" stroke-width="1.3" stroke-linecap="butt"/>
<line x1="668" y1="1464.5" x2="675" y2="1464.5" stroke="#595959" stroke-width="1.3" stroke-linecap="butt"/>
<line x1="668" y1="1496.5" x2="675" y2="1496.5" stroke="#595959" stroke-width="1.3" stroke-linecap="butt"/>
<line x1="834.5" y1="1400.5" x2="834.5" y2="1439.5" stroke="#595959" stroke-width="1.3" stroke-linecap="butt"/>
<line x1="831" y1="1400.5" x2="838" y2="1400.5" stroke="#595959" stroke-width="1.3" stroke-linecap="butt"/>
<line x1="831" y1="1439.5" x2="838" y2="1439.5" stroke="#595959" stroke-width="1.3" stroke-linecap="butt"/>
<line x1="996.5" y1="1356.5" x2="996.5" y2="1398.5" stroke="#595959" stroke-width="1.3" stroke-linecap="butt"/>
<line x1="993" y1="1356.5" x2="1000" y2="1356.5" stroke="#595959" stroke-width="1.3" stroke-linecap="butt"/>
<line x1="993" y1="1398.5" x2="1000" y2="1398.5" stroke="#595959" stroke-width="1.3" stroke-linecap="butt"/>
<line x1="346.5" y1="1599.5" x2="346.5" y2="1619.5" stroke="#595959" stroke-width="1.3" stroke-linecap="butt"/>
<line x1="343" y1="1599.5" x2="350" y2="1599.5" stroke="#595959" stroke-width="1.3" stroke-linecap="butt"/>
<line x1="343" y1="1619.5" x2="350" y2="1619.5" stroke="#595959" stroke-width="1.3" stroke-linecap="butt"/>
<line x1="509.5" y1="1527.5" x2="509.5" y2="1554.5" stroke="#595959" stroke-width="1.3" stroke-linecap="butt"/>
<line x1="506" y1="1527.5" x2="513" y2="1527.5" stroke="#595959" stroke-width="1.3" stroke-linecap="butt"/>
<line x1="506" y1="1554.5" x2="513" y2="1554.5" stroke="#595959" stroke-width="1.3" stroke-linecap="butt"/>
<line x1="671.5" y1="1419.5" x2="671.5" y2="1455.5" stroke="#595959" stroke-width="1.3" stroke-linecap="butt"/>
<line x1="668" y1="1419.5" x2="675" y2="1419.5" stroke="#595959" stroke-width="1.3" stroke-linecap="butt"/>
<line x1="668" y1="1455.5" x2="675" y2="1455.5" stroke="#595959" stroke-width="1.3" stroke-linecap="butt"/>
<line x1="834.5" y1="1374.5" x2="834.5" y2="1413.5" stroke="#595959" stroke-width="1.3" stroke-linecap="butt"/>
<line x1="831" y1="1374.5" x2="838" y2="1374.5" stroke="#595959" stroke-width="1.3" stroke-linecap="butt"/>
<line x1="831" y1="1413.5" x2="838" y2="1413.5" stroke="#595959" stroke-width="1.3" stroke-linecap="butt"/>
<line x1="996.5" y1="1327.5" x2="996.5" y2="1374.5" stroke="#595959" stroke-width="1.3" stroke-linecap="butt"/>
<line x1="993" y1="1327.5" x2="1000" y2="1327.5" stroke="#595959" stroke-width="1.3" stroke-linecap="butt"/>
<line x1="993" y1="1374.5" x2="1000" y2="1374.5" stroke="#595959" stroke-width="1.3" stroke-linecap="butt"/>
<polyline points="184.34,1808.3 346.82,1661.72 509.31,1609.98 671.79,1523.73 834.27,1428.89 996.76,1403.02" fill="none" stroke="#4472C4" stroke-width="3.7" stroke-linejoin="round" stroke-linecap="round"/>
<polyline points="184.34,1808.3 346.82,1644.49 509.31,1592.75 671.79,1480.63 834.27,1420.25 996.76,1377.15" fill="none" stroke="#ED7D31" stroke-width="3.7" stroke-linejoin="round" stroke-linecap="round"/>
<polyline points="184.34,1808.3 346.82,1609.98 509.31,1541.01 671.79,1437.53 834.27,1394.38 996.76,1351.28" fill="none" stroke="#A5A5A5" stroke-width="3.7" stroke-linejoin="round" stroke-linecap="round"/>
<polyline points="350,1664 359.8,1682.4" fill="none" stroke="#A6A6A6" stroke-width="1.2"/>
<polyline points="511,1613 522.5,1632.7" fill="none" stroke="#A6A6A6" stroke-width="1.2"/>
<polyline points="835,1440 838.9,1453.3" fill="none" stroke="#A6A6A6" stroke-width="1.2"/>
<text transform="translate(336.3 1703.8) scale(1 1)" style="font-size:20.8px;font-weight:bold;" fill="#000">28.33</text>
<text transform="translate(498.5 1653.6) scale(1 1)" style="font-size:20.8px;font-weight:bold;" fill="#000">38.33</text>
<text transform="translate(661.39 1508.03) scale(1 1)" style="font-size:20.8px;font-weight:bold;" fill="#000">55</text>
<text transform="translate(815.59 1475.1) scale(1 1)" style="font-size:20.8px;font-weight:bold;" fill="#000">73.33</text>
<text transform="translate(973.05 1387.32) scale(1 1)" style="font-size:20.8px;font-weight:bold;" fill="#000">78.33</text>
<text transform="translate(323.32 1628.79) scale(1 1)" style="font-size:20.8px;font-weight:bold;" fill="#000">31.66</text>
<text transform="translate(486.12 1577.05) scale(1 1)" style="font-size:20.8px;font-weight:bold;" fill="#000">41.66</text>
<text transform="translate(648.39 1464.93) scale(1 1)" style="font-size:20.8px;font-weight:bold;" fill="#000">63.33</text>
<text transform="translate(823.67 1404.55) scale(1 1)" style="font-size:20.8px;font-weight:bold;" fill="#000">75</text>
<text transform="translate(973.36 1361.45) scale(1 1)" style="font-size:20.8px;font-weight:bold;" fill="#000">83.33</text>
<text transform="translate(179.14 1792.6) scale(1 1)" style="font-size:20.8px;font-weight:bold;" fill="#000">0</text>
<text transform="translate(323.32 1594.28) scale(1 1)" style="font-size:20.8px;font-weight:bold;" fill="#000">38.33</text>
<text transform="translate(485.8 1525.31) scale(1 1)" style="font-size:20.8px;font-weight:bold;" fill="#000">51.66</text>
<text transform="translate(648.08 1421.83) scale(1 1)" style="font-size:20.8px;font-weight:bold;" fill="#000">71.66</text>
<text transform="translate(823.98 1378.68) scale(1 1)" style="font-size:20.8px;font-weight:bold;" fill="#000">80</text>
<text transform="translate(973.36 1335.58) scale(1 1)" style="font-size:20.8px;font-weight:bold;" fill="#000">88.33</text>
<line x1="85.5" y1="2430" x2="1076" y2="2430" stroke="#D9D9D9" stroke-width="1.5" stroke-linecap="butt"/>
<text transform="translate(57.93 2437) scale(1 1)" style="font-size:20.8px;font-weight:bold;" fill="#000">0</text>
<text transform="translate(47.53 2350.72) scale(1 1)" style="font-size:20.8px;font-weight:bold;" fill="#000">20</text>
<text transform="translate(47.53 2264.44) scale(1 1)" style="font-size:20.8px;font-weight:bold;" fill="#000">40</text>
<text transform="translate(47.53 2178.16) scale(1 1)" style="font-size:20.8px;font-weight:bold;" fill="#000">60</text>
<text transform="translate(47.53 2091.88) scale(1 1)" style="font-size:20.8px;font-weight:bold;" fill="#000">80</text>
<text transform="translate(37.13 2005.6) scale(1 1)" style="font-size:20.8px;font-weight:bold;" fill="#000">100</text>
<text transform="translate(37.13 1919.32) scale(1 1)" style="font-size:20.8px;font-weight:bold;" fill="#000">120</text>
<text transform="translate(136.32 2460.8) scale(1 1)" style="font-size:20.8px;font-weight:bold;" fill="#000">control</text>
<text transform="translate(311.91 2460.8) scale(1 1)" style="font-size:20.8px;font-weight:bold;" fill="#000">1000</text>
<text transform="translate(476.99 2460.8) scale(1 1)" style="font-size:20.8px;font-weight:bold;" fill="#000">1500</text>
<text transform="translate(642.49 2460.8) scale(1 1)" style="font-size:20.8px;font-weight:bold;" fill="#000">3000</text>
<text transform="translate(807.58 2460.8) scale(1 1)" style="font-size:20.8px;font-weight:bold;" fill="#000">5000</text>
<text transform="translate(972.76 2460.8) scale(1 1)" style="font-size:20.8px;font-weight:bold;" fill="#000">6000</text>
<text transform="translate(512.86 2469.5) scale(1 1)" style="font-size:20.8px;font-weight:bold;" fill="#000">Concentrations</text>
<text transform="translate(22.5 2399.2) rotate(-90) scale(1 1) translate(-0.42 0)" style="font-size:20.8px"><tspan style="font-weight:bold;">Mortality percentage of </tspan><tspan style="font-weight:bold;font-style:italic;">rhizopertha domonica</tspan></text>
<line x1="204.55" y1="1946.6" x2="233.05" y2="1946.6" stroke="#4472C4" stroke-width="3.3" stroke-linecap="round"/>
<text transform="translate(236.24 1954) scale(1 1)" style="font-size:20.8px;font-weight:bold;" fill="#000">10 m/l Ag NPs</text>
<line x1="204.55" y1="2061.7" x2="233.05" y2="2061.7" stroke="#ED7D31" stroke-width="3.3" stroke-linecap="round"/>
<text transform="translate(236.24 2068.6) scale(1 1)" style="font-size:20.8px;font-weight:bold;" fill="#000">12.5 m/l Ag NPs</text>
<line x1="204.55" y1="2177.5" x2="233.05" y2="2177.5" stroke="#A5A5A5" stroke-width="3.3" stroke-linecap="round"/>
<text transform="translate(236.24 2184.4) scale(1 1)" style="font-size:20.8px;font-weight:bold;" fill="#000">15 m/l Ag NPs</text>
<rect x="517.8" y="1890.5" width="64.5" height="52.1" rx="10" ry="10" fill="#FBE5D6" stroke="#111" stroke-width="1.8"/>
<text transform="translate(542.32 1925.6) scale(0.97 1)" style="font-family:'Liberation Sans',sans-serif;font-weight:bold;font-size:22.5px" fill="#000" stroke="#000" stroke-width="0.5">D</text>
<line x1="333.5" y1="2354.5" x2="333.5" y2="2361.5" stroke="#595959" stroke-width="1.3" stroke-linecap="butt"/>
<line x1="330" y1="2354.5" x2="337" y2="2354.5" stroke="#595959" stroke-width="1.3" stroke-linecap="butt"/>
<line x1="330" y1="2361.5" x2="337" y2="2361.5" stroke="#595959" stroke-width="1.3" stroke-linecap="butt"/>
<line x1="498.5" y1="2248.5" x2="498.5" y2="2265.5" stroke="#595959" stroke-width="1.3" stroke-linecap="butt"/>
<line x1="495" y1="2248.5" x2="502" y2="2248.5" stroke="#595959" stroke-width="1.3" stroke-linecap="butt"/>
<line x1="495" y1="2265.5" x2="502" y2="2265.5" stroke="#595959" stroke-width="1.3" stroke-linecap="butt"/>
<line x1="663.5" y1="2182.5" x2="663.5" y2="2202.5" stroke="#595959" stroke-width="1.3" stroke-linecap="butt"/>
<line x1="660" y1="2182.5" x2="667" y2="2182.5" stroke="#595959" stroke-width="1.3" stroke-linecap="butt"/>
<line x1="660" y1="2202.5" x2="667" y2="2202.5" stroke="#595959" stroke-width="1.3" stroke-linecap="butt"/>
<line x1="828.5" y1="2128.5" x2="828.5" y2="2156.5" stroke="#595959" stroke-width="1.3" stroke-linecap="butt"/>
<line x1="825" y1="2128.5" x2="832" y2="2128.5" stroke="#595959" stroke-width="1.3" stroke-linecap="butt"/>
<line x1="825" y1="2156.5" x2="832" y2="2156.5" stroke="#595959" stroke-width="1.3" stroke-linecap="butt"/>
<line x1="993.5" y1="2097.5" x2="993.5" y2="2130.5" stroke="#595959" stroke-width="1.3" stroke-linecap="butt"/>
<line x1="990" y1="2097.5" x2="997" y2="2097.5" stroke="#595959" stroke-width="1.3" stroke-linecap="butt"/>
<line x1="990" y1="2130.5" x2="997" y2="2130.5" stroke="#595959" stroke-width="1.3" stroke-linecap="butt"/>
<line x1="333.5" y1="2301.5" x2="333.5" y2="2313.5" stroke="#595959" stroke-width="1.3" stroke-linecap="butt"/>
<line x1="330" y1="2301.5" x2="337" y2="2301.5" stroke="#595959" stroke-width="1.3" stroke-linecap="butt"/>
<line x1="330" y1="2313.5" x2="337" y2="2313.5" stroke="#595959" stroke-width="1.3" stroke-linecap="butt"/>
<line x1="498.5" y1="2225.5" x2="498.5" y2="2245.5" stroke="#595959" stroke-width="1.3" stroke-linecap="butt"/>
<line x1="495" y1="2225.5" x2="502" y2="2225.5" stroke="#595959" stroke-width="1.3" stroke-linecap="butt"/>
<line x1="495" y1="2245.5" x2="502" y2="2245.5" stroke="#595959" stroke-width="1.3" stroke-linecap="butt"/>
<line x1="663.5" y1="2159.5" x2="663.5" y2="2182.5" stroke="#595959" stroke-width="1.3" stroke-linecap="butt"/>
<line x1="660" y1="2159.5" x2="667" y2="2159.5" stroke="#595959" stroke-width="1.3" stroke-linecap="butt"/>
<line x1="660" y1="2182.5" x2="667" y2="2182.5" stroke="#595959" stroke-width="1.3" stroke-linecap="butt"/>
<line x1="828.5" y1="2104.5" x2="828.5" y2="2136.5" stroke="#595959" stroke-width="1.3" stroke-linecap="butt"/>
<line x1="825" y1="2104.5" x2="832" y2="2104.5" stroke="#595959" stroke-width="1.3" stroke-linecap="butt"/>
<line x1="825" y1="2136.5" x2="832" y2="2136.5" stroke="#595959" stroke-width="1.3" stroke-linecap="butt"/>
<line x1="993.5" y1="2059.5" x2="993.5" y2="2095.5" stroke="#595959" stroke-width="1.3" stroke-linecap="butt"/>
<line x1="990" y1="2059.5" x2="997" y2="2059.5" stroke="#595959" stroke-width="1.3" stroke-linecap="butt"/>
<line x1="990" y1="2095.5" x2="997" y2="2095.5" stroke="#595959" stroke-width="1.3" stroke-linecap="butt"/>
<line x1="333.5" y1="2301.5" x2="333.5" y2="2313.5" stroke="#595959" stroke-width="1.3" stroke-linecap="butt"/>
<line x1="330" y1="2301.5" x2="337" y2="2301.5" stroke="#595959" stroke-width="1.3" stroke-linecap="butt"/>
<line x1="330" y1="2313.5" x2="337" y2="2313.5" stroke="#595959" stroke-width="1.3" stroke-linecap="butt"/>
<line x1="498.5" y1="2180.5" x2="498.5" y2="2204.5" stroke="#595959" stroke-width="1.3" stroke-linecap="butt"/>
<line x1="495" y1="2180.5" x2="502" y2="2180.5" stroke="#595959" stroke-width="1.3" stroke-linecap="butt"/>
<line x1="495" y1="2204.5" x2="502" y2="2204.5" stroke="#595959" stroke-width="1.3" stroke-linecap="butt"/>
<line x1="663.5" y1="2081.5" x2="663.5" y2="2116.5" stroke="#595959" stroke-width="1.3" stroke-linecap="butt"/>
<line x1="660" y1="2081.5" x2="667" y2="2081.5" stroke="#595959" stroke-width="1.3" stroke-linecap="butt"/>
<line x1="660" y1="2116.5" x2="667" y2="2116.5" stroke="#595959" stroke-width="1.3" stroke-linecap="butt"/>
<line x1="828.5" y1="2029.5" x2="828.5" y2="2068.5" stroke="#595959" stroke-width="1.3" stroke-linecap="butt"/>
<line x1="825" y1="2029.5" x2="832" y2="2029.5" stroke="#595959" stroke-width="1.3" stroke-linecap="butt"/>
<line x1="825" y1="2068.5" x2="832" y2="2068.5" stroke="#595959" stroke-width="1.3" stroke-linecap="butt"/>
<line x1="993.5" y1="2015.5" x2="993.5" y2="2053.5" stroke="#595959" stroke-width="1.3" stroke-linecap="butt"/>
<line x1="990" y1="2015.5" x2="997" y2="2015.5" stroke="#595959" stroke-width="1.3" stroke-linecap="butt"/>
<line x1="990" y1="2053.5" x2="997" y2="2053.5" stroke="#595959" stroke-width="1.3" stroke-linecap="butt"/>
<polyline points="168.04,2430 333.12,2358.13 498.21,2257.44 663.29,2192.73 828.38,2142.43 993.46,2113.65" fill="none" stroke="#4472C4" stroke-width="3.7" stroke-linejoin="round" stroke-linecap="round"/>
<polyline points="168.04,2430 333.12,2307.78 498.21,2235.87 663.29,2171.16 828.38,2120.86 993.46,2077.72" fill="none" stroke="#ED7D31" stroke-width="3.7" stroke-linejoin="round" stroke-linecap="round"/>
<polyline points="168.04,2430 333.12,2307.78 498.21,2192.73 663.29,2099.29 828.38,2048.94 993.46,2034.58" fill="none" stroke="#A5A5A5" stroke-width="3.7" stroke-linejoin="round" stroke-linecap="round"/>
<polyline points="498.3,2262 498.3,2277.2" fill="none" stroke="#A6A6A6" stroke-width="1.2"/>
<polyline points="665,2197 669.3,2213.8" fill="none" stroke="#A6A6A6" stroke-width="1.2"/>
<polyline points="830,2150 835,2170.2" fill="none" stroke="#A6A6A6" stroke-width="1.2"/>
<polyline points="994,2131 992.4,2142" fill="none" stroke="#A6A6A6" stroke-width="1.2"/>
<text transform="translate(342.44 2377.6) scale(1 1)" style="font-size:20.8px;font-weight:bold;" fill="#000">16.66</text>
<text transform="translate(487.91 2298.3) scale(1 1)" style="font-size:20.8px;font-weight:bold;" fill="#000">40</text>
<text transform="translate(658.9 2235.5) scale(1 1)" style="font-size:20.8px;font-weight:bold;" fill="#000">55</text>
<text transform="translate(812.3 2192) scale(1 1)" style="font-size:20.8px;font-weight:bold;" fill="#000">66.66</text>
<text transform="translate(968.09 2163.8) scale(1 1)" style="font-size:20.8px;font-weight:bold;" fill="#000">73.33</text>
<text transform="translate(488.12 2220.57) scale(1 1)" style="font-size:20.8px;font-weight:bold;" fill="#000">45</text>
<text transform="translate(653 2155.86) scale(1 1)" style="font-size:20.8px;font-weight:bold;" fill="#000">60</text>
<text transform="translate(804.66 2105.56) scale(1 1)" style="font-size:20.8px;font-weight:bold;" fill="#000">71.66</text>
<text transform="translate(970.06 2062.42) scale(1 1)" style="font-size:20.8px;font-weight:bold;" fill="#000">81.66</text>
<text transform="translate(162.84 2414.7) scale(1 1)" style="font-size:20.8px;font-weight:bold;" fill="#000">0</text>
<text transform="translate(309.62 2292.48) scale(1 1)" style="font-size:20.8px;font-weight:bold;" fill="#000">28.33</text>
<text transform="translate(487.81 2177.43) scale(1 1)" style="font-size:20.8px;font-weight:bold;" fill="#000">55</text>
<text transform="translate(639.58 2083.99) scale(1 1)" style="font-size:20.8px;font-weight:bold;" fill="#000">76.66</text>
<text transform="translate(804.98 2033.64) scale(1 1)" style="font-size:20.8px;font-weight:bold;" fill="#000">88.33</text>
<text transform="translate(970.06 2019.28) scale(1 1)" style="font-size:20.8px;font-weight:bold;" fill="#000">91.66</text>
</svg>
</body></html>
